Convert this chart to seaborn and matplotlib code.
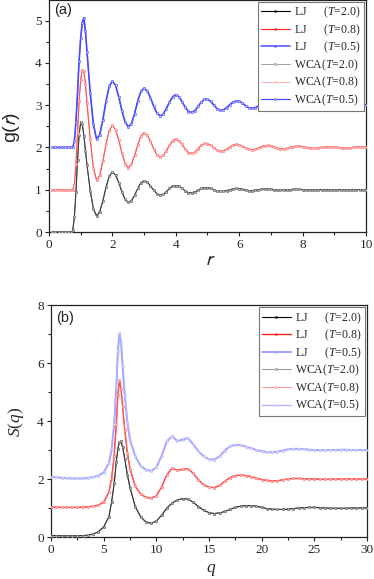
import numpy as np
import matplotlib
matplotlib.use("Agg")
import matplotlib.pyplot as plt
import seaborn as sns
from matplotlib.font_manager import FontProperties
from matplotlib.ticker import MultipleLocator

# ---- g(r) data (LJ and WCA curves coincide) ----
r_vals = [0.1, 0.2, 0.3, 0.4, 0.5, 0.6, 0.7,
          0.75, 0.8, 0.85, 0.9, 0.95, 1.0, 1.05, 1.1, 1.15,
          1.2, 1.3, 1.4, 1.5, 1.6, 1.7, 1.8, 1.9, 2.0,
          2.1, 2.2, 2.3, 2.4, 2.5, 2.6, 2.7, 2.8, 2.9, 3.0,
          3.1, 3.2, 3.3, 3.4, 3.5, 3.6, 3.7, 3.8, 3.9, 4.0,
          4.1, 4.2, 4.3, 4.4, 4.5, 4.6, 4.7, 4.8, 4.9, 5.0,
          5.1, 5.2, 5.3, 5.4, 5.5, 5.6, 5.7, 5.8, 5.9, 6.0,
          6.1, 6.2, 6.3, 6.4, 6.5, 6.6, 6.7, 6.8, 6.9, 7.0,
          7.1, 7.2, 7.3, 7.4, 7.5, 7.6, 7.7, 7.8, 7.9, 8.0,
          8.1, 8.2, 8.3, 8.4, 8.5, 8.6, 8.7, 8.8, 8.9, 9.0,
          9.1, 9.2, 9.3, 9.4, 9.5, 9.6, 9.7, 9.8, 9.9, 10.0]

g_T20 = [0, 0, 0, 0, 0, 0, 0,
         0.04, 0.35, 0.95, 1.7, 2.3, 2.6, 2.55, 2.28, 1.92,
         1.58, 0.98, 0.55, 0.38, 0.48, 0.74, 1.06, 1.32, 1.42,
         1.35, 1.17, 0.95, 0.77, 0.70, 0.74, 0.87, 1.03, 1.17, 1.21,
         1.18, 1.09, 0.99, 0.91, 0.87, 0.89, 0.95, 1.03, 1.09, 1.10,
         1.08, 1.03, 0.97, 0.93, 0.93, 0.95, 0.99, 1.03, 1.05, 1.05,
         1.03, 1.00, 0.97, 0.96, 0.96, 0.98, 1.00, 1.02, 1.03, 1.02,
         1.01, 0.99, 0.98, 0.98, 0.99, 1.00, 1.01, 1.015, 1.015, 1.01,
         1.00, 0.99, 0.99, 0.99, 1.00, 1.00, 1.01, 1.01, 1.01, 1.00,
         1.00, 0.995, 0.995, 0.995, 1.00, 1.00, 1.005, 1.005, 1.00, 1.00,
         1.00, 0.995, 0.995, 1.00, 1.00, 1.00, 1.005, 1.00, 1.00, 1.00]

g_T08 = [0, 0, 0, 0, 0, 0, 0,
         0, 0.12, 0.6, 1.35, 2.1, 2.6, 2.84, 2.82, 2.5,
         2.05, 1.2, 0.52, 0.22, 0.34, 0.68, 1.08, 1.40, 1.52,
         1.42, 1.17, 0.87, 0.62, 0.52, 0.60, 0.81, 1.06, 1.27, 1.35,
         1.29, 1.15, 0.97, 0.83, 0.77, 0.81, 0.92, 1.05, 1.16, 1.20,
         1.16, 1.07, 0.96, 0.88, 0.86, 0.89, 0.97, 1.05, 1.10, 1.09,
         1.05, 0.99, 0.93, 0.91, 0.92, 0.96, 1.01, 1.05, 1.07, 1.06,
         1.03, 0.99, 0.96, 0.95, 0.96, 0.99, 1.02, 1.04, 1.05, 1.04,
         1.02, 0.99, 0.97, 0.97, 0.98, 1.00, 1.02, 1.03, 1.03, 1.02,
         1.00, 0.99, 0.98, 0.98, 0.99, 1.00, 1.01, 1.02, 1.02, 1.01,
         1.00, 0.99, 0.985, 0.99, 0.995, 1.00, 1.01, 1.015, 1.01, 1.005]

g_T05 = [0, 0, 0, 0, 0, 0, 0,
         0, 0.15, 0.6, 1.3, 2.05, 2.6, 2.95, 3.07, 2.75,
         2.25, 1.3, 0.55, 0.2, 0.3, 0.66, 1.1, 1.45, 1.57,
         1.47, 1.2, 0.87, 0.6, 0.49, 0.56, 0.80, 1.10, 1.33, 1.40,
         1.34, 1.18, 0.98, 0.82, 0.75, 0.78, 0.92, 1.07, 1.20, 1.25,
         1.20, 1.08, 0.95, 0.85, 0.83, 0.87, 0.97, 1.07, 1.14, 1.14,
         1.09, 1.00, 0.92, 0.88, 0.89, 0.94, 1.01, 1.07, 1.10, 1.09,
         1.05, 0.99, 0.94, 0.93, 0.94, 0.98, 1.03, 1.06, 1.06, 1.05,
         1.02, 0.98, 0.95, 0.95, 0.97, 1.00, 1.03, 1.04, 1.04, 1.03,
         1.01, 0.98, 0.97, 0.97, 0.98, 1.00, 1.02, 1.03, 1.03, 1.02,
         1.00, 0.98, 0.98, 0.98, 0.99, 1.00, 1.015, 1.02, 1.02, 1.01]

# ---- S(q) data ----
q_vals = [0.0, 0.5, 1.0, 1.5, 2.0, 2.5, 3.0, 3.5, 4.0, 4.5, 5.0, 5.5,
          5.75, 6.0, 6.2, 6.35, 6.5, 6.65, 6.8, 7.0, 7.25, 7.5,
          8.0, 8.5, 9.0, 9.5, 10.0, 10.5, 11.0, 11.5, 12.0, 12.5,
          13.0, 13.5, 14.0, 14.5, 15.0, 15.5, 16.0, 16.5, 17.0, 17.5,
          18.0, 18.5, 19.0, 19.5, 20.0, 20.5, 21.0, 21.5, 22.0, 22.5,
          23.0, 23.5, 24.0, 24.5, 25.0, 25.5, 26.0, 26.5, 27.0, 27.5,
          28.0, 28.5, 29.0, 29.5, 30.0]

S_T20 = [0.05, 0.05, 0.04, 0.04, 0.04, 0.04, 0.05, 0.06, 0.10, 0.18, 0.35, 0.70,
         1.2, 1.85, 2.6, 3.05, 3.28, 3.3, 3.1, 2.7, 2.15, 1.7,
         1.05, 0.7, 0.52, 0.47, 0.55, 0.75, 1.0, 1.17, 1.28, 1.32,
         1.31, 1.2, 1.05, 0.92, 0.84, 0.81, 0.83, 0.88, 0.95, 1.02,
         1.06, 1.08, 1.08, 1.06, 1.02, 0.98, 0.96, 0.95, 0.95, 0.96,
         0.98, 1.00, 1.01, 1.02, 1.02, 1.01, 1.00, 0.99, 0.99, 0.99,
         0.99, 1.00, 1.00, 1.00, 1.00]

S_T08 = [0.03, 0.03, 0.02, 0.02, 0.02, 0.02, 0.03, 0.04, 0.06, 0.10, 0.20, 0.55,
         1.0, 1.8, 2.9, 3.9, 4.4, 4.1, 3.5, 2.7, 1.9, 1.35,
         0.75, 0.48, 0.37, 0.34, 0.42, 0.72, 1.15, 1.37, 1.30, 1.33,
         1.35, 1.20, 0.97, 0.80, 0.72, 0.70, 0.78, 0.92, 1.05, 1.12,
         1.13, 1.12, 1.08, 1.03, 0.98, 0.95, 0.93, 0.94, 0.97, 1.00,
         1.02, 1.02, 1.01, 1.00, 1.00, 0.99, 0.99, 0.99, 1.00, 1.00,
         1.00, 1.00, 1.00, 1.00, 1.00]

S_T05 = [0.07, 0.06, 0.04, 0.03, 0.02, 0.02, 0.02, 0.04, 0.07, 0.12, 0.22, 0.55,
         1.0, 1.9, 3.2, 4.4, 5.03, 4.7, 3.9, 2.9, 1.95, 1.35,
         0.78, 0.46, 0.32, 0.28, 0.40, 0.80, 1.30, 1.47, 1.31, 1.36,
         1.41, 1.20, 0.95, 0.78, 0.68, 0.67, 0.78, 0.98, 1.13, 1.18,
         1.16, 1.12, 1.06, 1.00, 0.96, 0.93, 0.92, 0.94, 0.98, 1.02,
         1.04, 1.04, 1.03, 1.01, 1.00, 0.99, 0.99, 1.00, 1.00, 1.01,
         1.01, 1.00, 1.00, 1.00, 1.00]

temps = ["2.0", "0.8", "0.5"]
shifts = [0, 1, 2]   # vertical offsets used in the figure

sns.set_style("ticks")
plt.rcParams['font.family'] = ['Liberation Serif', 'DejaVu Serif']
plt.rcParams['mathtext.fontset'] = 'custom'
plt.rcParams['mathtext.rm'] = 'Liberation Serif'
plt.rcParams['mathtext.it'] = 'Liberation Serif:italic'
plt.rcParams['axes.edgecolor'] = '#222222'
plt.rcParams['axes.linewidth'] = 0.9

fig = plt.figure(figsize=(3.74, 5.79), dpi=100)
ax1 = fig.add_axes([49/374, 347/579, 317/374, 232.5/579])
ax2 = fig.add_axes([51/374, 42/579, 316/374, 232/579])

# colours per panel: (LJ line, WCA line) for each temperature
cols_a = [("black", "#7a7a7a"), ("#ff2020", "#ff9090"), ("#5a5aff", "#4040ff")]
lw_a = [(0.8, 0.5), (0.8, 0.5), (1.2, 0.8)]
cols_b = [("black", "#6a6a6a"), ("#ff2020", "#ff8080"), ("#a0a0ff", "#b4b4ff")]
lw_b = [(0.8, 0.5), (1.0, 0.6), (1.4, 1.0)]

g_curves = [g_T20, g_T08, g_T05]
s_curves = [S_T20, S_T08, S_T05]

def lj_label(t):
    return "LJ      ($T$=" + t + ")"

def wca_label(t):
    return "WCA($T$=" + t + ")"

for ax, x, curves, cols, lws in [(ax1, r_vals, g_curves, cols_a, lw_a),
                                 (ax2, q_vals, s_curves, cols_b, lw_b)]:
    # LJ curves first (small filled squares)
    for i, t in enumerate(temps):
        y = np.array(curves[i]) + shifts[i]
        sns.lineplot(x=x, y=y, ax=ax, color=cols[i][0], lw=lws[i][0],
                     marker='s', markersize=1.2, markeredgecolor=cols[i][0],
                     markeredgewidth=0.3, label=lj_label(t), zorder=2)
    # WCA curves on top (small hollow circles)
    for i, t in enumerate(temps):
        y = np.array(curves[i]) + shifts[i]
        sns.lineplot(x=x, y=y, ax=ax, color=cols[i][1], lw=lws[i][1],
                     marker='o', markersize=1.6, markerfacecolor='white',
                     markeredgecolor=cols[i][1], markeredgewidth=0.4,
                     alpha=0.7, label=wca_label(t), zorder=3)

leg_font = FontProperties(family='Liberation Serif', size=8.5)
for ax in (ax1, ax2):
    leg = ax.legend(loc='upper right', prop=leg_font, fancybox=False,
                    edgecolor='#777777', framealpha=1, handlelength=2.5,
                    handletextpad=0.35, labelspacing=0.18, borderpad=0.25,
                    borderaxespad=0.2)
    leg.get_frame().set_linewidth(0.8)
    for h in leg.legend_handles:
        h.set_alpha(1)
    ax.tick_params(which='both', direction='out', top=False, right=False,
                   labelsize=9.5, width=0.8, color='#222222', pad=2)
    ax.tick_params(which='major', length=3.2)
    ax.tick_params(which='minor', length=2)
    for s in ax.spines.values():
        s.set_visible(True)

# panel (a)
ax1.set_xlim(0, 10)
ax1.set_ylim(0, 5.5)
ax1.xaxis.set_major_locator(MultipleLocator(2))
ax1.xaxis.set_minor_locator(MultipleLocator(1))
ax1.yaxis.set_major_locator(MultipleLocator(1))
ax1.yaxis.set_minor_locator(MultipleLocator(0.5))
ax1.set_xlabel("$r$", fontsize=14, fontfamily='Liberation Sans',
               math_fontfamily='stixsans')
ax1.set_ylabel("g($r$)", fontsize=14, fontfamily='Liberation Sans',
               math_fontfamily='stixsans')
ax1.yaxis.set_label_coords(-0.085, 0.45)
ax1.xaxis.set_label_coords(0.508, -0.085)
ax1.text(0.015, 0.985, "(a)", transform=ax1.transAxes, ha='left', va='top',
         fontsize=10.5, fontfamily='Liberation Sans')

# panel (b)
ax2.set_xlim(0, 30)
ax2.set_ylim(0, 8)
ax2.xaxis.set_major_locator(MultipleLocator(5))
ax2.xaxis.set_minor_locator(MultipleLocator(2.5))
ax2.yaxis.set_major_locator(MultipleLocator(2))
ax2.yaxis.set_minor_locator(MultipleLocator(1))
ax2.set_xlabel("$q$", fontsize=12.5)
ax2.set_ylabel("$S$($q$)", fontsize=12.5)
ax2.yaxis.set_label_coords(-0.08, 0.495)
ax2.xaxis.set_label_coords(0.508, -0.108)
ax2.text(0.015, 0.975, "(b)", transform=ax2.transAxes, ha='left', va='top',
         fontsize=10.5, fontfamily='Liberation Sans')

fig.savefig("out.png", dpi=100)
